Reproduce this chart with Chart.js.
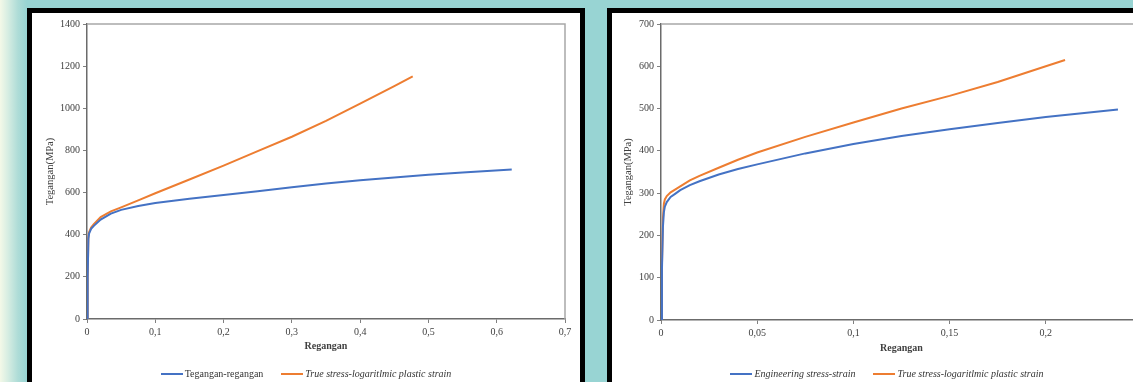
<!DOCTYPE html>
<html>
<head>
<meta charset="utf-8">
<script src="https://cdn.jsdelivr.net/npm/chart.js@4.4.1/dist/chart.umd.min.js"></script>
<style>
  html, body { margin: 0; padding: 0; width: 1133px; height: 382px; overflow: hidden; }
  body {
    position: relative;
    font-family: "Liberation Serif", "DejaVu Serif", serif;
    background: linear-gradient(to right, #f4f9e8 0px, #d6ede2 8px, #aedcd7 18px, #98d4d3 27px, #98d4d3 100%);
  }
  .panel { position: absolute; top: 8px; height: 400px; border: 5px solid #000; background: #fff; }
  #p1 { left: 27px; width: 548px; }
  #p2 { left: 607px; width: 550px; }
  .panel canvas { position: absolute; left: 0; top: 0; }
  .legend {
    position: absolute; left: 0; right: 0; top: 355px; height: 12px;
    display: flex; justify-content: center; align-items: center;
    font-size: 10px; line-height: 12px; color: #333;
  }
  .legend .item { display: flex; align-items: center; margin: 0 9px; white-space: nowrap; }
  .legend .swatch { width: 22px; height: 2px; margin-right: 2px; }
  .legend .it { font-style: italic; }
</style>
</head>
<body>
<div class="panel" id="p1">
  <canvas id="chartA" width="548" height="369"></canvas>
  <div class="legend" id="legendA"></div>
</div>
<div class="panel" id="p2">
  <canvas id="chartB" width="550" height="369"></canvas>
  <div class="legend" id="legendB"></div>
</div>
<script>
// left chart: engineering curve and true stress / log plastic strain
const engStrainA = [0, 0.001, 0.002, 0.003, 0.006, 0.01, 0.02, 0.035, 0.05, 0.075, 0.1, 0.15, 0.2, 0.25, 0.3, 0.35, 0.4, 0.45, 0.5, 0.55, 0.622];
const engStressA = [0, 200, 380, 405, 428, 442, 472, 500, 518, 536, 550, 571, 589, 606, 625, 643, 659, 672, 684, 695, 710];
const trueStrainA = [0, 0.001, 0.002, 0.003, 0.006, 0.01, 0.02, 0.035, 0.05, 0.075, 0.1, 0.15, 0.2, 0.25, 0.3, 0.35, 0.4, 0.45, 0.477];
const trueStressA = [0, 200, 385, 412, 434, 450, 484, 511, 530, 563, 597, 662, 728, 797, 865, 940, 1022, 1105, 1152];

// right chart
const engStrainB = [0, 0.0005, 0.001, 0.0015, 0.002, 0.003, 0.005, 0.0075, 0.01, 0.015, 0.02, 0.03, 0.04, 0.05, 0.075, 0.1, 0.125, 0.15, 0.175, 0.2, 0.2375];
const engStressB = [0, 120, 220, 255, 268, 279, 291, 299, 307, 319, 328, 344, 357, 368, 394, 416, 435, 451, 466, 480, 498];
const trueStrainB = [0, 0.0005, 0.001, 0.0015, 0.002, 0.003, 0.005, 0.0075, 0.01, 0.015, 0.02, 0.03, 0.04, 0.05, 0.075, 0.1, 0.125, 0.15, 0.175, 0.2, 0.21];
const trueStressB = [0, 130, 240, 275, 285, 293, 302, 309, 316, 330, 341, 360, 379, 396, 433, 467, 500, 530, 563, 600, 615];

const labelsA = ['Tegangan-regangan', 'True stress-logaritlmic plastic strain'];
const labelsB = ['Engineering stress-strain', 'True stress-logaritlmic plastic strain'];
const italicA = [false, true];
const italicB = [true, true];

const BLUE = '#4472c4';
const ORANGE = '#ed7d31';
const FONT = '"Liberation Serif", "DejaVu Serif", serif';

const xyPoints = (xs, ys) => xs.map((x, i) => ({ x: x, y: ys[i] }));
const commaNum = v => String(Number(v.toFixed(3))).replace('.', ',');

// grey frame on top and right of the plot area, like the Excel original
const plotFrame = {
    id: 'plotFrame',
    beforeDatasetsDraw(chart) {
        const { ctx, chartArea: a } = chart;
        ctx.save();
        ctx.strokeStyle = '#a8a8a8';
        ctx.lineWidth = 1.5;
        ctx.beginPath();
        ctx.moveTo(a.left, a.top);
        ctx.lineTo(a.right, a.top);
        ctx.lineTo(a.right, a.bottom);
        ctx.stroke();
        ctx.restore();
    }
};

function buildLegend(el, chart, italic) {
    chart.data.datasets.forEach((ds, i) => {
        const item = document.createElement('div');
        item.className = 'item';
        const sw = document.createElement('span');
        sw.className = 'swatch';
        sw.style.background = ds.borderColor;
        const tx = document.createElement('span');
        tx.textContent = ds.label;
        if (italic[i]) tx.className = 'it';
        item.appendChild(sw);
        item.appendChild(tx);
        el.appendChild(item);
    });
}

function makeChart(id, o) {
    return new Chart(document.getElementById(id), {
        type: 'scatter',
        data: {
            datasets: [{
                label: o.labels[0],
                data: xyPoints(o.engX, o.engY),
                borderColor: BLUE,
                backgroundColor: BLUE,
                borderWidth: 2,
                showLine: true,
                pointRadius: 0,
                tension: 0
            }, {
                label: o.labels[1],
                data: xyPoints(o.trueX, o.trueY),
                borderColor: ORANGE,
                backgroundColor: ORANGE,
                borderWidth: 2,
                showLine: true,
                pointRadius: 0,
                tension: 0
            }]
        },
        options: {
            responsive: false,
            animation: false,
            layout: { padding: { top: 11, right: o.padRight, bottom: 0, left: 0 } },
            plugins: { legend: { display: false }, tooltip: { enabled: false } },
            scales: {
                x: {
                    type: 'linear',
                    min: 0,
                    max: o.xMax,
                    ticks: {
                        stepSize: o.xStep,
                        autoSkip: false,
                        maxRotation: 0,
                        padding: 3,
                        color: '#404040',
                        font: { family: FONT, size: 10 },
                        callback: v => commaNum(v)
                    },
                    grid: { drawOnChartArea: false, tickLength: 4, color: '#808080' },
                    border: { color: '#6b6b6b', width: 1.5 },
                    title: {
                        display: true,
                        text: 'Regangan',
                        color: '#404040',
                        font: { family: FONT, size: 10, weight: 'bold' },
                        padding: { top: 0, bottom: o.xTitlePad }
                    },
                    afterFit(s) { s.height = o.xHeight; }
                },
                y: {
                    min: 0,
                    max: o.yMax,
                    ticks: {
                        stepSize: o.yStep,
                        padding: 3,
                        color: '#404040',
                        font: { family: FONT, size: 10 },
                        callback: v => String(v)
                    },
                    grid: { drawOnChartArea: false, tickLength: 4, color: '#808080' },
                    border: { color: '#6b6b6b', width: 1.5 },
                    title: {
                        display: true,
                        text: 'Tegangan(MPa)',
                        color: '#404040',
                        font: { family: FONT, size: 10.5 },
                        padding: { top: o.yTitlePad, bottom: 0 }
                    },
                    afterFit(s) { s.width = o.yWidth; }
                }
            }
        },
        plugins: [plotFrame]
    });
}

const chartA = makeChart('chartA', {
    labels: labelsA,
    engX: engStrainA, engY: engStressA,
    trueX: trueStrainA, trueY: trueStressA,
    xMax: 0.7, xStep: 0.1, yMax: 1400, yStep: 200,
    yWidth: 55, xHeight: 63, padRight: 15, xTitlePad: 30, yTitlePad: 12
});
const chartB = makeChart('chartB', {
    labels: labelsB,
    engX: engStrainB, engY: engStressB,
    trueX: trueStrainB, trueY: trueStressB,
    xMax: 0.25, xStep: 0.05, yMax: 700, yStep: 100,
    yWidth: 49, xHeight: 62, padRight: 20, xTitlePad: 28, yTitlePad: 10
});

buildLegend(document.getElementById('legendA'), chartA, italicA);
buildLegend(document.getElementById('legendB'), chartB, italicB);
</script>
</body>
</html>
